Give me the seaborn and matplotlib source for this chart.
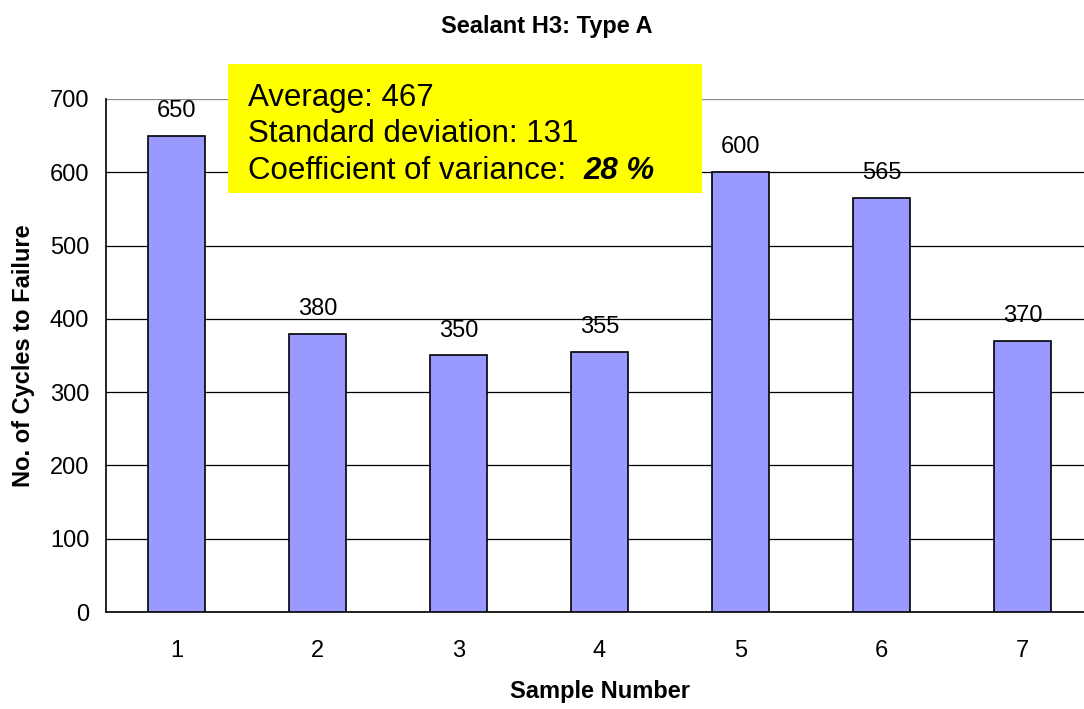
import numpy as np
import pandas as pd
import matplotlib
matplotlib.use("Agg")
import matplotlib.pyplot as plt
import seaborn as sns
from matplotlib.patches import Rectangle

samples = ["1", "2", "3", "4", "5", "6", "7"]
cycles = [650, 380, 350, 355, 600, 565, 370]
stat_lines = ["Average: 467", "Standard deviation: 131", "Coefficient of variance:  "]
cov_text = "28 %"

sns.set_style("white")
plt.rcParams['font.family'] = ['Liberation Sans', 'DejaVu Sans']
plt.rcParams['text.color'] = 'black'
plt.rcParams['axes.labelcolor'] = 'black'
plt.rcParams['xtick.color'] = 'black'
plt.rcParams['ytick.color'] = 'black'

df = pd.DataFrame({'sample': samples, 'cycles': cycles})

fig = plt.figure(figsize=(10.84, 7.09), dpi=100)
ax = fig.add_axes([0.0978, 0.1368, 0.9105, 0.7236])

sns.barplot(data=df, x='sample', y='cycles', color='#9999FF', saturation=1,
            edgecolor='black', linewidth=1.2, width=0.41, ax=ax, zorder=3)

ax.set_xlim(-0.5, 6.5)
ax.set_ylim(0, 700)
ax.set_yticks(range(0, 701, 100))
ax.grid(axis='y', color='black', linewidth=0.9, zorder=0)
ax.set_axisbelow(True)
ax.get_ygridlines()[-1].set_color('#888888')

# category boundaries as tick marks, labels on minor ticks
ax.set_xticks(np.arange(-0.5, 7.0, 1.0))
ax.set_xticklabels([])
ax.set_xticks(range(len(samples)), minor=True)
ax.set_xticklabels(samples, minor=True)
ax.tick_params(axis='x', which='major', direction='out', length=6, width=1, color='black')
ax.tick_params(axis='x', which='minor', length=0, pad=20, labelsize=17)
ax.tick_params(axis='y', direction='out', length=6, width=1, color='black', labelsize=17, pad=6)

for s in ['top', 'right']:
    ax.spines[s].set_visible(False)
for s in ['left', 'bottom']:
    ax.spines[s].set_color('black')
    ax.spines[s].set_linewidth(1.2)

for c in ax.containers:
    ax.bar_label(c, labels=[str(v) for v in cycles], padding=10, fontsize=17)

ax.set_xlabel('Sample Number', fontsize=17, fontweight='bold', labelpad=13)
ax.set_ylabel('No. of Cycles to Failure', fontsize=17, fontweight='bold', labelpad=11)
fig.text(0.504, 1 - 26 / 709, 'Sealant H3: Type A', ha='center', va='center',
         fontsize=17, fontweight='bold')

# statistics box (drawn on the axes so it sits above the bars and gridlines)
ax.add_patch(Rectangle((228 / 1084, 1 - 193 / 709), (702 - 228) / 1084, (193 - 64) / 709,
                       transform=fig.transFigure, facecolor='#FFFF00',
                       edgecolor='none', zorder=5, clip_on=False))
ys = [98, 134.5, 171]
txt = None
for line, y in zip(stat_lines, ys):
    txt = ax.text(248 / 1084, 1 - y / 709, line, fontsize=22.5, va='center', ha='left',
                  transform=fig.transFigure, zorder=6, clip_on=False)
ax.annotate(cov_text, xy=(1, 0.5), xycoords=txt, va='center', ha='left',
            fontsize=22.5, fontweight='bold', style='italic', zorder=6,
            annotation_clip=False)

fig.savefig('out.png', dpi=100)
